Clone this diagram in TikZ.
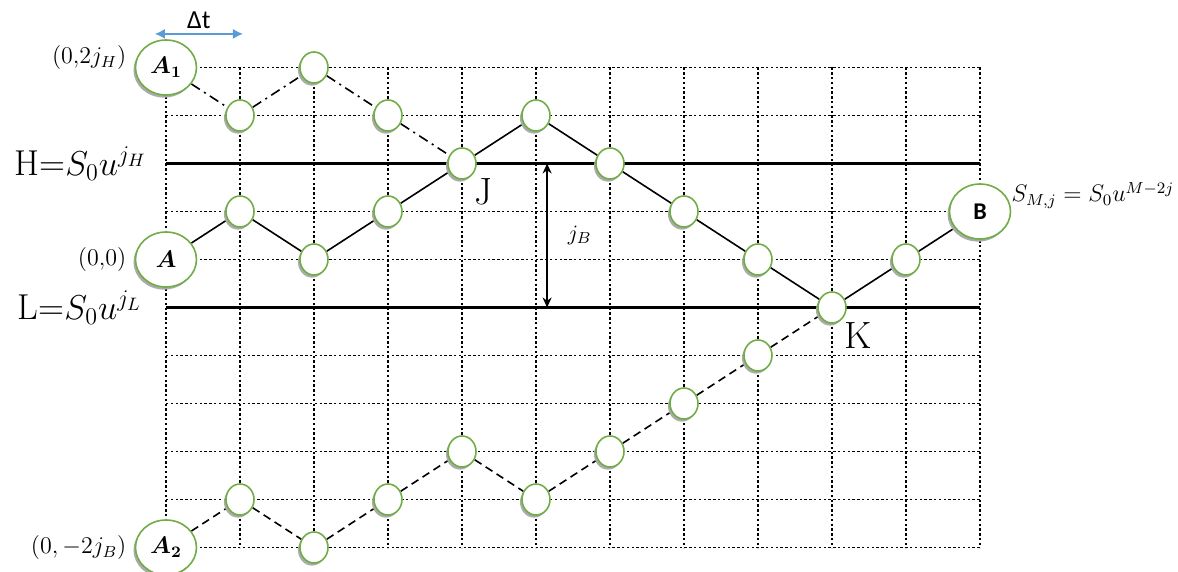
\documentclass[tikz,border=0pt]{standalone}
\usepackage{fontspec}
\usepackage{bm}
\newfontfamily\calib{Carlito}
\usetikzlibrary{arrows.meta,positioning,shapes.geometric,shadows,backgrounds}
\definecolor{latgreen}{HTML}{70AD47}
\definecolor{dtblue}{HTML}{5B9BD5}
\tikzset{
  lat/.style={ellipse, draw=latgreen, line width=0.8pt, fill=white, minimum width=14pt, minimum height=15.5pt, inner sep=0pt,
    drop shadow={shadow xshift=-1pt, shadow yshift=-1.3pt, fill=black!33, opacity=1}},
  endpt/.style={lat, minimum width=30.5pt, minimum height=27.5pt, font=\fontsize{12}{14}\selectfont},
  gridln/.style={line width=0.8pt, dash pattern=on 1.2pt off 1.2pt},
  bar/.style={line width=1.5pt},
  upline/.style={line width=0.8pt},
  dashline/.style={line width=0.8pt, dash pattern=on 4pt off 2.5pt},
  dotline/.style={line width=0.8pt, dash pattern=on 5pt off 2.5pt on 1pt off 2.5pt},
  ptlbl/.style={inner sep=0pt, font=\fontsize{12}{14}\selectfont},
  barlbl/.style={inner sep=0pt, font=\fontsize{18}{20}\selectfont},
  bigltr/.style={inner sep=0pt, font=\fontsize{19}{21}\selectfont},
  jarr/.style={{Stealth[length=5pt,width=4.5pt]}-{Stealth[length=5pt,width=4.5pt]}, line width=0.8pt},
  tarr/.style={{Latex[length=5pt,width=5pt]}-{Latex[length=5pt,width=5pt]}, line width=0.7pt, color=dtblue},
}
\begin{document}
\begin{tikzpicture}[x=37pt, y=-24pt]
  \useasboundingbox (-2.2432,-1.4063) rectangle (13.6757,10.5104);
  % end points of the walks
  \node[endpt] (A1) at (0,0) {$\bm{A_1}$};
  \node[endpt] (A) at (0,4) {$\bm{A}$};
  \node[endpt] (A2) at (0,10) {$\bm{A_2}$};
  \node[endpt, font=\calib\bfseries\fontsize{12}{14}\selectfont] (B) at (11,3) {B};
  \node[lat] (J) at (4,2) {};
  \node[lat] (K) at (9,5) {};
  \foreach \i/\j in {1/1,2/0,3/1, 1/3,2/4,3/3,5/1,6/2,7/3,8/4,10/4, 1/9,2/10,3/9,4/8,5/9,6/8,7/7,8/6}
    \node[lat] (n\i-\j) at (\i,\j) {};
  % labels
  \node[ptlbl, left=4pt of A1, yshift=5pt] {$(0{,}2j_H)$};
  \node[ptlbl, left=4pt of A] {$(0{,}0)$};
  \node[ptlbl, left=4pt of A2] {$(0,-2j_B)$};
  \node[ptlbl, anchor=west] at ([yshift=8pt]B.east) {$S_{M,j} = S_0u^{M-2j}$};
  \node[bigltr] at ([shift={(10.5pt,-14pt)}]J.center) {J};
  \node[bigltr] at ([shift={(13pt,-14pt)}]K.center) {K};
  % barriers
  \coordinate (Hl) at (0,2); \coordinate (Hr) at (11,2);
  \coordinate (Ll) at (0,5); \coordinate (Lr) at (11,5);
  \node[barlbl, left=9.5pt of Hl] {H=$S_0u^{j_H}$};
  \node[barlbl, left=12pt of Ll] {L=$S_0u^{j_L}$};
  \coordinate (jt) at (5.15,2); \coordinate (jb) at (5.15,5);
  \draw[jarr] (jt) -- (jb) node[midway, right=10pt, ptlbl, font=\fontsize{11}{13}\selectfont] {$j_B$};
  % time step
  \coordinate (dtl) at (-0.15,-0.7); \coordinate (dtr) at (1.04,-0.7);
  \draw[tarr] (dtl) -- (dtr) node[midway, above=2.5pt, inner sep=0pt, text=black, font=\calib\fontsize{13}{15}\selectfont] {Δt};
  \begin{scope}[on background layer]
    \foreach \i in {0,...,11} \draw[gridln] (\i,0) -- (\i,10);
    \foreach \j in {0,...,10} \draw[gridln] (0,\j) -- (11,\j);
    \draw[bar] (Hl) -- (Hr);
    \draw[bar] (Ll) -- (Lr);
    \draw[dotline] (A1) -- (n1-1) -- (n2-0) -- (n3-1) -- (J);
    \draw[upline] (A) -- (n1-3) -- (n2-4) -- (n3-3) -- (J) -- (n5-1) -- (n6-2) -- (n7-3) -- (n8-4) -- (K) -- (n10-4) -- (B);
    \draw[dashline] (A2) -- (n1-9) -- (n2-10) -- (n3-9) -- (n4-8) -- (n5-9) -- (n6-8) -- (n7-7) -- (n8-6) -- (K);
  \end{scope}
\end{tikzpicture}
\end{document}
